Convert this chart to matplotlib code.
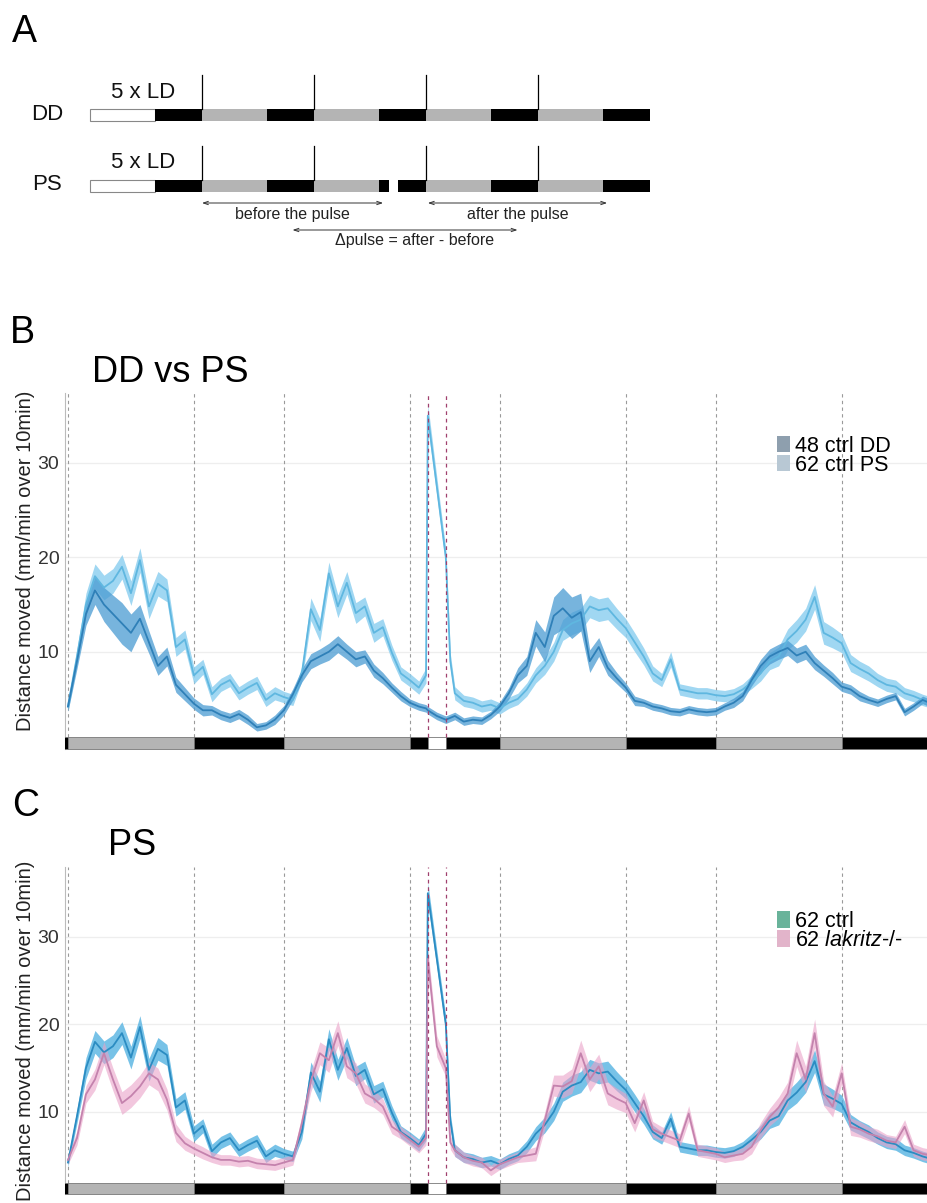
import numpy as np
import matplotlib
matplotlib.use("Agg")
import matplotlib.pyplot as plt
from matplotlib.patches import Patch

plt.rcParams['font.family'] = ['Liberation Sans', 'DejaVu Sans']
plt.rcParams['mathtext.fontset'] = 'custom'
plt.rcParams['mathtext.rm'] = 'Liberation Sans'
plt.rcParams['mathtext.it'] = 'Liberation Sans:italic'

# ---------------------------------------------------------------- data
# time after the end of entrainment (h); the light pulse runs from 40 h to 42 h
hours = list(range(0, 40)) + [39.8, 40, 41, 42, 42.5] + list(range(43, 97))

# 48 ctrl DD: mean distance moved (mm/min over 10 min) and SEM
dd_mean = [4.2, 9.0, 14.0, 16.5, 15.0, 14.0, 13.0, 12.0, 13.5, 11.0,
           8.5, 9.5, 6.5, 5.5, 4.5, 3.8, 3.8, 3.3, 3.0, 3.4,
           2.8, 2.0, 2.2, 2.8, 3.8, 5.5, 7.5, 9.0, 9.5, 10.0,
           10.8, 10.0, 9.2, 9.5, 8.0, 7.2, 6.2, 5.3, 4.6, 4.2,
           4.0, 3.8, 3.2, 2.8, 3.0,
           3.2, 2.6, 2.8, 2.7, 3.3, 4.2, 5.6, 7.5, 8.5, 12.0,
           10.5, 13.8, 14.6, 13.6, 14.2, 9.0, 10.5, 8.3, 7.2, 6.2,
           4.8, 4.6, 4.2, 4.0, 3.7, 3.6, 3.9, 3.7, 3.6, 3.7,
           4.2, 4.6, 5.3, 7.0, 8.5, 9.5, 10.0, 10.4, 9.6, 10.0,
           8.8, 8.0, 7.2, 6.3, 6.0, 5.3, 4.9, 4.6, 5.0, 5.3,
           3.6, 4.2, 4.9, 4.5]
dd_sem = [0.5, 0.8, 1.2, 1.5, 1.8, 2.0, 2.2, 2.0, 1.5, 1.2,
          1.0, 1.0, 0.8, 0.7, 0.6, 0.6, 0.5, 0.5, 0.5, 0.5,
          0.5, 0.4, 0.4, 0.5, 0.5, 0.6, 0.7, 0.8, 0.8, 0.9,
          0.9, 0.8, 0.8, 0.7, 0.7, 0.6, 0.5, 0.5, 0.4, 0.4,
          0.4, 0.4, 0.4, 0.4, 0.4,
          0.4, 0.4, 0.4, 0.4, 0.4, 0.5, 0.6, 0.8, 1.0, 1.4,
          1.6, 2.0, 2.2, 2.2, 2.0, 1.2, 1.0, 0.8, 0.6, 0.5,
          0.5, 0.4, 0.4, 0.4, 0.4, 0.4, 0.4, 0.4, 0.4, 0.4,
          0.4, 0.5, 0.5, 0.6, 0.7, 0.8, 0.8, 0.8, 0.8, 0.8,
          0.7, 0.6, 0.6, 0.5, 0.5, 0.5, 0.4, 0.4, 0.4, 0.4,
          0.4, 0.4, 0.4, 0.4]

# 62 ctrl PS (pulsed controls, shown in both B and C)
ps_mean = [4.2, 9.5, 15.0, 18.0, 16.8, 17.5, 19.0, 16.2, 19.7, 14.8,
           17.2, 16.5, 10.5, 11.3, 7.5, 8.4, 5.5, 6.5, 7.0, 5.6,
           6.2, 6.7, 4.9, 5.6, 5.2, 4.9, 7.7, 14.5, 12.3, 18.3,
           14.8, 17.3, 14.1, 14.8, 12.0, 12.6, 9.9, 7.7, 7.0, 6.2,
           7.5, 35.0, 27.5, 20.0, 9.0,
           5.6, 4.8, 4.6, 4.2, 4.4, 4.0, 4.6, 5.0, 6.0, 7.5,
           8.5, 10.0, 12.3, 13.0, 13.4, 14.8, 14.4, 14.6, 13.5, 12.5,
           11.0, 9.5, 7.7, 7.0, 9.2, 6.0, 5.8, 5.6, 5.6, 5.4,
           5.3, 5.5, 6.0, 6.8, 7.7, 9.0, 9.5, 11.3, 12.2, 13.4,
           15.8, 12.0, 11.5, 10.9, 8.8, 8.2, 7.7, 7.0, 6.5, 6.3,
           5.6, 5.3, 4.9, 4.6]
ps_sem = [0.5, 0.8, 1.2, 1.3, 1.3, 1.3, 1.3, 1.3, 1.3, 1.3,
          1.3, 1.2, 1.0, 1.0, 0.9, 0.8, 0.8, 0.7, 0.7, 0.7,
          0.7, 0.7, 0.7, 0.7, 0.6, 0.6, 0.8, 1.2, 1.2, 1.2,
          1.2, 1.2, 1.1, 1.0, 1.0, 0.9, 0.8, 0.7, 0.7, 0.7,
          0.8, 1.2, 1.0, 0.9, 0.8,
          0.7, 0.6, 0.6, 0.6, 0.6, 0.6, 0.6, 0.6, 0.7, 0.8,
          0.9, 1.0, 1.1, 1.2, 1.2, 1.2, 1.2, 1.2, 1.1, 1.0,
          1.0, 0.9, 0.8, 0.7, 0.8, 0.6, 0.6, 0.6, 0.6, 0.6,
          0.6, 0.6, 0.6, 0.7, 0.8, 0.9, 1.0, 1.1, 1.2, 1.2,
          1.3, 1.2, 1.1, 1.0, 0.9, 0.8, 0.8, 0.7, 0.7, 0.7,
          0.6, 0.6, 0.6, 0.6]

# 62 lakritz-/- PS
lak_mean = [4.5, 7.0, 12.0, 13.7, 16.7, 13.7, 11.0, 11.8, 12.9, 14.4,
            13.7, 11.4, 7.6, 6.4, 5.8, 5.3, 4.8, 4.5, 4.5, 4.3,
            4.4, 4.1, 4.0, 3.9, 4.2, 4.5, 8.7, 13.5, 16.7, 15.9,
            19.0, 15.2, 14.4, 12.1, 11.5, 10.6, 8.3, 7.6, 6.8, 6.0,
            7.0, 27.5, 17.5, 15.0, 6.5,
            5.6, 4.8, 4.4, 4.2, 3.3, 4.0, 4.4, 4.8, 5.0, 5.2,
            9.0, 13.0, 12.9, 13.5, 16.7, 13.7, 15.2, 12.1, 11.5, 11.0,
            8.7, 11.3, 8.0, 7.5, 7.1, 6.7, 9.8, 5.6, 5.4, 5.2,
            4.8, 5.0, 5.2, 6.0, 7.9, 9.4, 10.5, 12.1, 16.7, 13.7,
            19.0, 12.1, 10.6, 14.4, 8.3, 8.0, 7.5, 7.2, 6.7, 6.5,
            8.3, 5.6, 5.2, 5.0]
lak_sem = [0.5, 0.8, 1.0, 1.2, 1.3, 1.3, 1.3, 1.3, 1.3, 1.3,
           1.3, 1.2, 1.0, 0.8, 0.7, 0.7, 0.6, 0.6, 0.6, 0.6,
           0.6, 0.6, 0.6, 0.6, 0.6, 0.6, 0.9, 1.2, 1.3, 1.4,
           1.4, 1.3, 1.2, 1.1, 1.0, 0.9, 0.8, 0.7, 0.7, 0.7,
           0.8, 1.2, 1.2, 1.0, 0.8,
           0.7, 0.6, 0.6, 0.6, 0.6, 0.6, 0.6, 0.6, 0.7, 0.8,
           1.0, 1.2, 1.3, 1.4, 1.5, 1.4, 1.4, 1.3, 1.2, 1.1,
           1.0, 1.0, 0.9, 0.8, 0.8, 0.8, 0.9, 0.7, 0.7, 0.7,
           0.6, 0.6, 0.7, 0.8, 0.9, 1.0, 1.2, 1.3, 1.5, 1.5,
           1.6, 1.4, 1.2, 1.2, 1.0, 0.9, 0.8, 0.8, 0.7, 0.7,
           0.8, 0.7, 0.7, 0.7]

# lighting schedule under the traces: (start h, end h, phase)
light_bar = [(-0.4, 0, 'dark'), (0, 14, 'subjective day'), (14, 24, 'dark'),
             (24, 38, 'subjective day'), (38, 40, 'dark'), (40, 42, 'pulse'),
             (42, 48, 'dark'), (48, 62, 'subjective day'), (62, 72, 'dark'),
             (72, 86, 'subjective day'), (86, 96, 'dark')]
phase_boundaries = [0, 14, 24, 38, 48, 62, 72, 86]
pulse_edges = [40, 42]

# protocol schematic (panel A), hours relative to release into DD
dd_protocol = [(-24, -10, 'light'), (-10, 0, 'dark'), (0, 14, 'subjective day'),
               (14, 24, 'dark'), (24, 38, 'subjective day'), (38, 48, 'dark'),
               (48, 62, 'subjective day'), (62, 72, 'dark'),
               (72, 86, 'subjective day'), (86, 96, 'dark')]
ps_protocol = [(-24, -10, 'light'), (-10, 0, 'dark'), (0, 14, 'subjective day'),
               (14, 24, 'dark'), (24, 38, 'subjective day'), (38, 40, 'dark'),
               (42, 48, 'dark'), (48, 62, 'subjective day'), (62, 72, 'dark'),
               (72, 86, 'subjective day'), (86, 96, 'dark')]
day_starts = [0, 24, 48, 72]
before_window = (0, 38.8)
after_window = (48.4, 86.8)

phase_colors = {'dark': 'black', 'subjective day': '#b4b4b4',
                'pulse': 'white', 'light': 'white'}

yticks = [10, 20, 30]

# ---------------------------------------------------------------- figure
W, H = 928, 1203
fig = plt.figure(figsize=(W / 100, H / 100), dpi=100)


def px_box(left, top, right, bottom):
    return [left / W, 1 - bottom / H, (right - left) / W, (bottom - top) / H]


# ---- panel A: protocol schematic
axA = fig.add_axes(px_box(0, 0, W, 250))
px_per_h = 4.667
x0 = 202
axA.set_xlim(-x0 / px_per_h, (W - x0) / px_per_h)
axA.set_ylim(250, 0)
axA.axis('off')


def draw_protocol(ax, segs, y_top, height):
    for s, e, ph in segs:
        ax.add_patch(plt.Rectangle((s, y_top), e - s, height,
                                   facecolor=phase_colors[ph],
                                   edgecolor='#888888' if ph == 'light' else 'none',
                                   lw=0.8))
    for d in day_starts:
        ax.plot([d, d], [y_top, y_top - 34], color='black', lw=0.9)


draw_protocol(axA, dd_protocol, 109, 12)
draw_protocol(axA, ps_protocol, 180, 12)

label_x = -x0 / px_per_h + 47 / px_per_h
for name, y in (('DD', 114), ('PS', 184)):
    axA.text(label_x, y, name, fontsize=16, ha='center', va='center', color='#111')
    axA.text(-24 + 21 / px_per_h, y - 21, '5 x LD', fontsize=16, ha='left',
             va='center', color='#111')

arrow_kw = dict(arrowstyle='<->,head_length=0.35,head_width=0.12',
                color='#333333', lw=0.7, shrinkA=0, shrinkB=0)
axA.annotate('', xy=(before_window[1], 203), xytext=(before_window[0], 203),
             arrowprops=arrow_kw)
axA.annotate('', xy=(after_window[1], 203), xytext=(after_window[0], 203),
             arrowprops=arrow_kw)
mid_before = sum(before_window) / 2
mid_after = sum(after_window) / 2
axA.annotate('', xy=(mid_after, 230), xytext=(mid_before, 230),
             arrowprops=arrow_kw)
axA.text(mid_before, 215, 'before the pulse', fontsize=11.5, ha='center',
         va='center', color='#222')
axA.text(mid_after, 215, 'after the pulse', fontsize=11.5, ha='center',
         va='center', color='#222')
axA.text((mid_before + mid_after) / 2 + 2, 241, '\u0394pulse = after - before',
         fontsize=11.5, ha='center', va='center', color='#222')

fig.text(12 / W, 1 - 42 / H, 'A', fontsize=27, va='baseline', ha='left')


# ---- panels B and C: activity traces
def activity_axes(box, ylim, bar_top):
    ax = fig.add_axes(box)
    ax.set_xlim(-0.33, 95.6)
    ax.set_ylim(*ylim)
    for sp in ('top', 'right', 'bottom'):
        ax.spines[sp].set_visible(False)
    ax.spines['left'].set_color('#bbbbbb')
    ax.spines['left'].set_linewidth(0.8)
    ax.set_xticks([])
    ax.set_yticks(yticks)
    ax.tick_params(axis='y', length=0, pad=4, labelsize=14, labelcolor='#333333')
    for v in yticks:
        ax.axhline(v, color='#eeeeee', lw=0.9, zorder=0)
    ax.vlines(phase_boundaries, bar_top, ylim[1], colors='#9a9a9a', lw=0.8,
              linestyles=(0, (3, 3)), zorder=1)
    ax.vlines(pulse_edges, bar_top, ylim[1], colors='#a0406e', lw=0.9,
              linestyles=(0, (3, 3)), zorder=5)
    for s, e, ph in light_bar:
        ax.broken_barh([(s, e - s)], (ylim[0], bar_top - ylim[0]),
                       facecolors=phase_colors[ph], edgecolors='#777777',
                       linewidth=0.6, zorder=3)
    ax.set_ylabel('Distance moved (mm/min over 10min)', fontsize=14.5,
                  color='#222222')
    return ax


def trace(ax, mean, sem, line_c, band_c, band_a, z):
    m = np.asarray(mean)
    s = np.asarray(sem)
    ax.fill_between(hours, m - s, m + s, color=band_c, alpha=band_a, lw=0, zorder=z)
    ax.plot(hours, m, color=line_c, lw=1.3, zorder=z + 0.5)


# panel B
axB = activity_axes(px_box(65, 393, W, 749), (-0.3, 37.4), 0.95)
axB.yaxis.set_label_coords(-0.035, 0.53)
trace(axB, ps_mean, ps_sem, '#5fb7e0', '#8fd0f0', 0.85, 2)
trace(axB, dd_mean, dd_sem, '#2f80b8', '#4a9bd2', 0.75, 2.2)
axB.legend(handles=[Patch(facecolor='#8e9fae', edgecolor='none'),
                    Patch(facecolor='#b8c8d4', edgecolor='none')],
           labels=['48 ctrl DD', '62 ctrl PS'], loc='upper left',
           bbox_to_anchor=(0.825, 0.88), frameon=False, fontsize=15.5,
           handlelength=0.6, handleheight=0.8, handletextpad=0.25,
           labelspacing=-0.1, borderpad=0, borderaxespad=0)
fig.text(10 / W, 1 - 343 / H, 'B', fontsize=27, va='baseline', ha='left')
fig.text(92 / W, 1 - 382 / H, 'DD vs PS', fontsize=26, va='baseline', ha='left')

# panel C
axC = activity_axes(px_box(65, 867, W, 1194), (0.6, 38.0), 1.9)
axC.yaxis.set_label_coords(-0.035, 0.5)
trace(axC, ps_mean, ps_sem, '#2b8cc2', '#4aaee0', 0.75, 2)
trace(axC, lak_mean, lak_sem, '#c482ad', '#eaa2c8', 0.6, 2.2)
axC.legend(handles=[Patch(facecolor='#69b39a', edgecolor='none'),
                    Patch(facecolor='#e2b4ca', edgecolor='none')],
           labels=['62 ctrl', '62 $\\it{lakritz}$-/-'], loc='upper left',
           bbox_to_anchor=(0.825, 0.865), frameon=False, fontsize=15.5,
           handlelength=0.6, handleheight=0.8, handletextpad=0.25,
           labelspacing=-0.1, borderpad=0, borderaxespad=0)
fig.text(12 / W, 1 - 816 / H, 'C', fontsize=27, va='baseline', ha='left')
fig.text(108 / W, 1 - 855 / H, 'PS', fontsize=26, va='baseline', ha='left')

fig.savefig('out.png', dpi=100, facecolor='white')
